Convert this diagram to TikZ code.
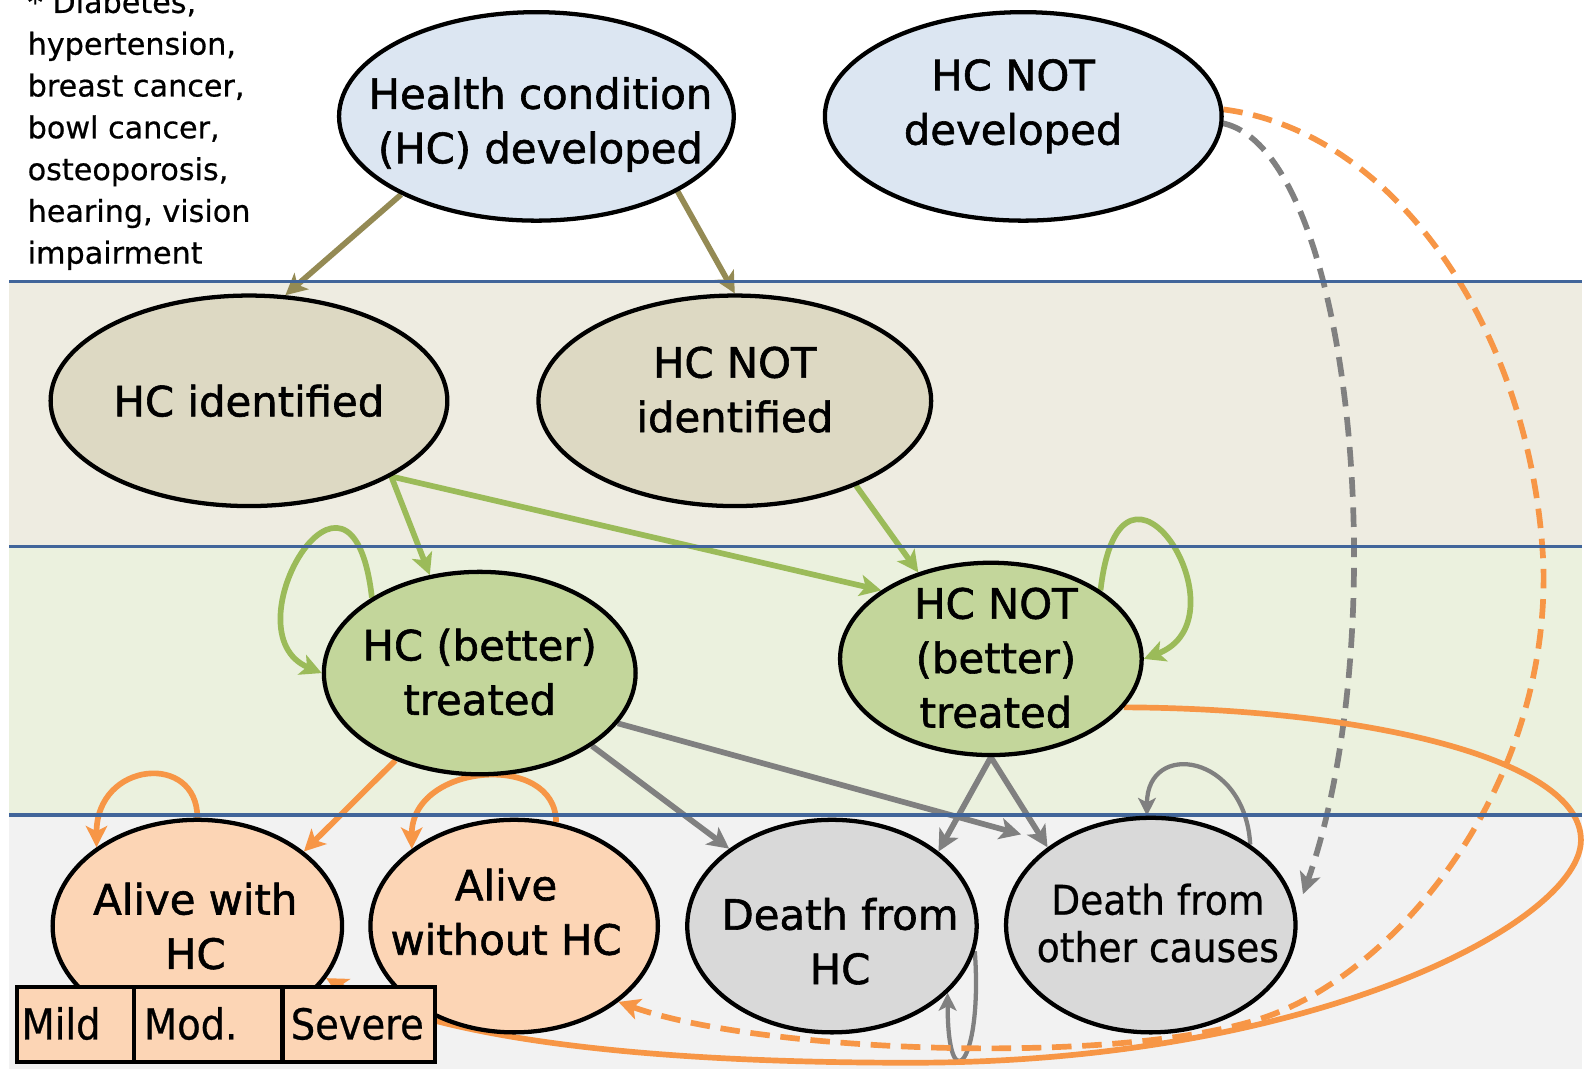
\documentclass[tikz,border=0pt]{standalone}
\usepackage{fontspec}
\setmainfont{DejaVu Sans}
\newfontfamily\labelsans{DejaVu Sans}[FakeBold=1.4]
\newfontfamily\listsans{DejaVu Sans}[FakeBold=0.6]
\newfontfamily\narrowsans{DejaVu Sans}[FakeStretch=0.92,FakeBold=0.6]
\newfontfamily\boxsans{DejaVu Sans}[FakeStretch=0.9,FakeBold=0.6]
\usetikzlibrary{shapes.geometric,arrows.meta}

% fills of the states and of the three bands
\definecolor{fillblue}{HTML}{DCE6F2}
\definecolor{filltan}{HTML}{DDD9C3}
\definecolor{fillgreen}{HTML}{C3D69B}
\definecolor{fillpeach}{HTML}{FCD5B5}
\definecolor{fillgray}{HTML}{D9D9D9}
\definecolor{bandtan}{HTML}{EEECE1}
\definecolor{bandgreen}{HTML}{EBF1DE}
\definecolor{bandgray}{HTML}{F2F2F2}
\definecolor{ruleblue}{HTML}{41659A}
% transition colours
\definecolor{lnolive}{HTML}{948A54}
\definecolor{lngreen}{HTML}{9BBB59}
\definecolor{lngray}{HTML}{808080}
\definecolor{lnorange}{HTML}{F79646}

\pgfdeclarelayer{bands}
\pgfdeclarelayer{links}
\pgfdeclarelayer{rules}
\pgfsetlayers{bands,links,rules,main}

\begin{document}
\begin{tikzpicture}[x=0.02cm,y=-0.02cm,
  st/.style n args={3}{ellipse, draw=black, line width=2.4pt, fill=#1,
     minimum width=#2*0.02cm, minimum height=#3*0.02cm, inner sep=0pt},
  lbl/.style={align=center, inner sep=0pt, font=\labelsans\fontsize{23.5pt}{30.6pt}\selectfont},
  link/.style={line width=3.2pt, -{Stealth[length=12pt,width=12pt,inset=3pt]}},
  thin link/.style={line width=2.4pt, -{Stealth[length=10pt,width=10pt,inset=2.5pt]}},
  dashlink/.style={link, dash pattern=on 11pt off 6pt},
  sev/.style={draw=black, line width=2.4pt, fill=fillpeach, inner sep=0pt,
     anchor=north west, minimum height=74*0.02cm},
  sevtxt/.style={anchor=base west, inner sep=0pt, font=\boxsans\fontsize{24pt}{28pt}\selectfont},
  rule/.style={draw=ruleblue, line width=2pt}
]
\useasboundingbox (0,0) rectangle (1568,1056);

% ---------- background bands ----------
\begin{pgfonlayer}{bands}
  \fill[white] (0,0) rectangle (1568,1056);
  \fill[bandtan]   (9,278) rectangle (1563,540);
  \fill[bandgreen] (9,540) rectangle (1563,805);
  \fill[bandgray]  (9,805) rectangle (1563,1056);
\end{pgfonlayer}
\begin{pgfonlayer}{rules}
  \draw[rule] (9,278) -- (1563,278);
  \draw[rule] (9,540) -- (1563,540);
  \draw[rule] (9,805) -- (1563,805);
\end{pgfonlayer}

% ---------- list of conditions ----------
\node[anchor=north west, inner sep=0pt, align=left,
      font=\listsans\fontsize{17pt}{23.5pt}\selectfont] (conds) at (27,-10.3)
  {* Diabetes,\\hypertension,\\breast cancer,\\bowl cancer,\\osteoporosis,\\hearing, vision\\impairment};

% ---------- states ----------
\node[st={fillblue}{390}{206}]  (hcd)  at (530,115) {};
\node[st={fillblue}{392}{206}]  (hcn)  at (1011,115) {};
\node[st={filltan}{392}{208}]   (hci)  at (246,396) {};
\node[st={filltan}{388}{208}]   (hcni) at (726,396) {};
\node[st={fillgreen}{308}{200}] (hct)  at (474,665) {};
\node[st={fillgreen}{298}{190}] (hcnt) at (979,651) {};
\node[st={fillpeach}{286}{210}] (awh)  at (195,915) {};
\node[st={fillpeach}{284}{210}] (awo)  at (508,915) {};
\node[st={fillgray}{286}{210}]  (dhc)  at (822,915) {};
\node[st={fillgray}{286}{212}]  (doc)  at (1137,914) {};

\node[lbl] (hcd-t)  at (534,123) {Health condition\\(HC) developed};
\node[lbl] (hcn-t)  at (1001,105) {HC NOT\\developed};
\node[lbl] (hci-t)  at (246,396) {HC identified};
\node[lbl] (hcni-t) at (726,385) {HC NOT\\identified};
\node[lbl] (hct-t)  at (474,664) {HC (better)\\treated};
\node[lbl] (hcnt-t) at (984,650) {HC NOT\\(better)\\treated};
\node[lbl] (awh-t)  at (193,915) {Alive with\\HC};
\node[lbl] (awo-t)  at (500,901) {Alive\\without HC};
\node[lbl] (dhc-t)  at (830,930) {Death from\\HC};
\node[lbl, font=\narrowsans\fontsize{23pt}{26.6pt}\selectfont] (doc-t) at (1144,912)
  {Death from\\other causes};

% ---------- severity split ----------
\node[sev, minimum width=115*0.02cm] (mild)   at (15,973) {};
\node[sev, minimum width=147*0.02cm] (mod)    at (130,973) {};
\node[sev, minimum width=151*0.02cm] (severe) at (277,973) {};
\node[sevtxt] (mild-t)   at (21,1027)  {Mild};
\node[sevtxt] (mod-t)    at (142,1027) {Mod.};
\node[sevtxt] (severe-t) at (287,1027) {Severe};

% ---------- transitions ----------
\begin{pgfonlayer}{links}
  % development -> identification
  \draw[link, draw=lnolive] (hcd.210) -- (hci.71);
  \draw[link, draw=lnolive] (hcd.332) -- (hcni.90);
  % identification -> treatment
  \draw[link, draw=lngreen] (hci.332) -- (hct.117);
  \draw[link, draw=lngreen] (hci.332) -- (hcnt.148);
  \draw[link, draw=lngreen] (hcni.325) -- (hcnt.130);
  \draw[link, draw=lngreen] (hct.145) .. controls +(-20,-175) and +(-95,-40) .. (hct.180);
  \draw[link, draw=lngreen] (hcnt.32) .. controls +(20,-175) and +(105,-40) .. (hcnt.0);
  % treatment -> deaths
  \draw[link, draw=lngray] (hct.327) -- (dhc.143);
  \draw[link, draw=lngray, shorten >=0.66cm] (hct.340) -- (doc.140);
  \draw[link, draw=lngray] (hcnt.270) -- (dhc.35);
  \draw[link, draw=lngray] (hcnt.270) -- (doc.143);
  \draw[thin link, draw=lngray] (doc.39) .. controls +(-5,-90) and +(0,-75) .. (doc.92);
  \draw[thin link, draw=lngray] (dhc.350) .. controls +(8,110) and +(0,110) .. (dhc.330);
  \draw[dashlink, draw=lngray, shorten >=0.38cm] (hcn.358) .. controls (1335,150) and (1380,620) .. (doc.5);
  % treatment -> alive
  \draw[link, draw=lnorange] (hct.226) -- (awh.35);
  \draw[link, draw=lnorange] (awh.90) .. controls +(0,-65) and +(0,-85) .. (awh.142);
  \draw[link, draw=lnorange] (awo.68) .. controls +(0,-70) and +(0,-85) .. (awo.143);
  \draw[dashlink, draw=lnorange] (hcn.2) .. controls (1380,130) and (1515,330) .. (1525,560)
     .. controls (1530,780) and (1380,960) .. (1250,1005)
     .. controls (1107,1054) and (750,1040) .. (awo.324);
  \draw[link, draw=lnorange] (hcnt.340) .. controls (1350,700) and (1562,750) .. (1562,830)
     .. controls (1562,910) and (1300,1050) .. (900,1050)
     .. controls (600,1050) and (420,1020) .. (awh.338);
\end{pgfonlayer}
\end{tikzpicture}
\end{document}
